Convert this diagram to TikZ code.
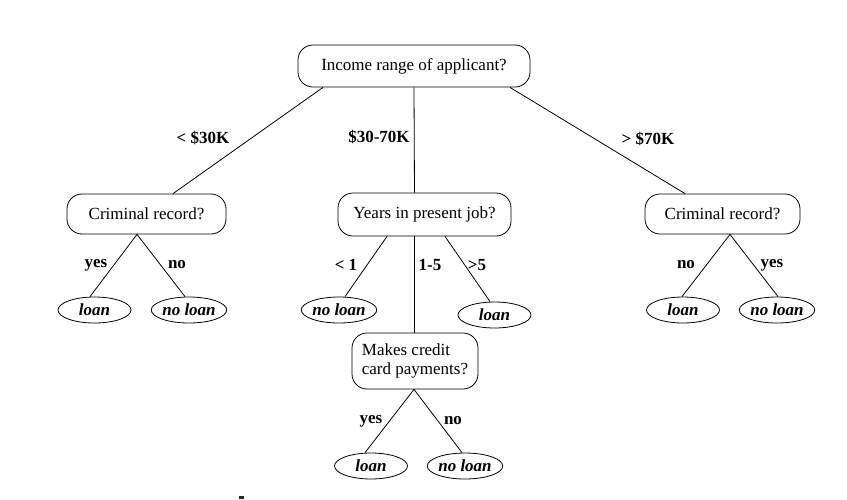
\documentclass[tikz,border=0pt]{standalone}
\usepackage{fontspec}
\setmainfont{Liberation Serif}
\usetikzlibrary{shapes.geometric,calc}
\begin{document}
\begin{tikzpicture}[x=1pt,y=-1pt,
  every node/.style={font=\fontsize{17}{19}\selectfont},
  qbox/.style={draw,line width=0.8pt,rounded corners=15pt,inner sep=0pt},
  leaf/.style={draw,ellipse,line width=0.8pt,inner sep=0pt,minimum width=73pt,minimum height=26pt,font=\fontsize{17}{19}\selectfont\bfseries\itshape},
  lbl/.style={font=\fontsize{17}{19}\selectfont\bfseries,inner sep=0pt},
  conn/.style={line width=0.8pt}]
\fill[white] (0,0) rectangle (847,499);
\useasboundingbox (0,0) rectangle (847,499);

% question boxes
\node[qbox,minimum width=232pt,minimum height=42pt] (top) at (414,66) {Income range of applicant?};
\node[qbox,minimum width=159pt,minimum height=40pt] (lc) at (146.5,214) {Criminal record?};
\node[qbox,minimum width=173pt,minimum height=43pt] (yrs) at (424.5,214.5) {Years in present job?};
\node[qbox,minimum width=155pt,minimum height=40pt] (rc) at (722.5,214) {Criminal record?};
\node[qbox,minimum width=126pt,minimum height=56pt,align=left] (mk) at (415,361) {Makes credit\\card payments?};

% leaves
\node[leaf] (l1) at (94.5,310) {loan};
\node[leaf] (l2) at (189,310) {no loan};
\node[leaf] (l3) at (339,310) {no loan};
\node[leaf] (l4) at (494.5,315) {loan};
\node[leaf] (l5) at (683,310) {loan};
\node[leaf] (l6) at (777,310) {no loan};
\node[leaf] (l7) at (371,466) {loan};
\node[leaf] (l8) at (465,466) {no loan};

% connectors
\draw[conn] ([xshift=-91pt]top.south) -- ([xshift=26.5pt]lc.north);
\draw[conn] (top.south) -- ([xshift=-10pt]yrs.north);
\draw[conn] ([xshift=96pt]top.south) -- ([xshift=-37.5pt]rc.north);
\draw[conn] ([xshift=-9.5pt]lc.south) -- ([xshift=-4.5pt]l1.north);
\draw[conn] ([xshift=-9.5pt]lc.south) -- ([xshift=-4pt]l2.north);
\draw[conn] ([xshift=-37.5pt]yrs.south) -- ([xshift=6pt]l3.north);
\draw[conn] ([xshift=-10.5pt]yrs.south) -- ([xshift=-1pt]mk.north);
\draw[conn] ([xshift=20.5pt]yrs.south) -- ([xshift=-4.5pt]l4.north);
\draw[conn] ([xshift=7.5pt]rc.south) -- ([xshift=-1pt]l5.north);
\draw[conn] ([xshift=7.5pt]rc.south) -- ([xshift=1pt]l6.north);
\draw[conn] ([xshift=-1pt]mk.south) -- ([xshift=-6pt]l7.north);
\draw[conn] ([xshift=-1pt]mk.south) -- ([xshift=-3pt]l8.north);

% labels
\node[lbl] (a1) at (203,138) {< \$30K};
\node[lbl] (a2) at (379,137) {\$30-70K};
\node[lbl] (a3) at (648,139) {> \$70K};
\node[lbl] (b1) at (96,265) {yes};
\node[lbl] (b2) at (177,265) {no};
\node[lbl] (b3) at (346,265) {< 1};
\node[lbl] (b4) at (430,265) {1-5};
\node[lbl] (b5) at (477,265) {>5};
\node[lbl] (b6) at (686,265) {no};
\node[lbl] (b7) at (772,265) {yes};
\node[lbl] (b8) at (371,421) {yes};
\node[lbl] (b9) at (453,421) {no};

% stray mark at bottom edge
\fill[black!85] (239,496) rectangle (244,499);
\end{tikzpicture}
\end{document}
